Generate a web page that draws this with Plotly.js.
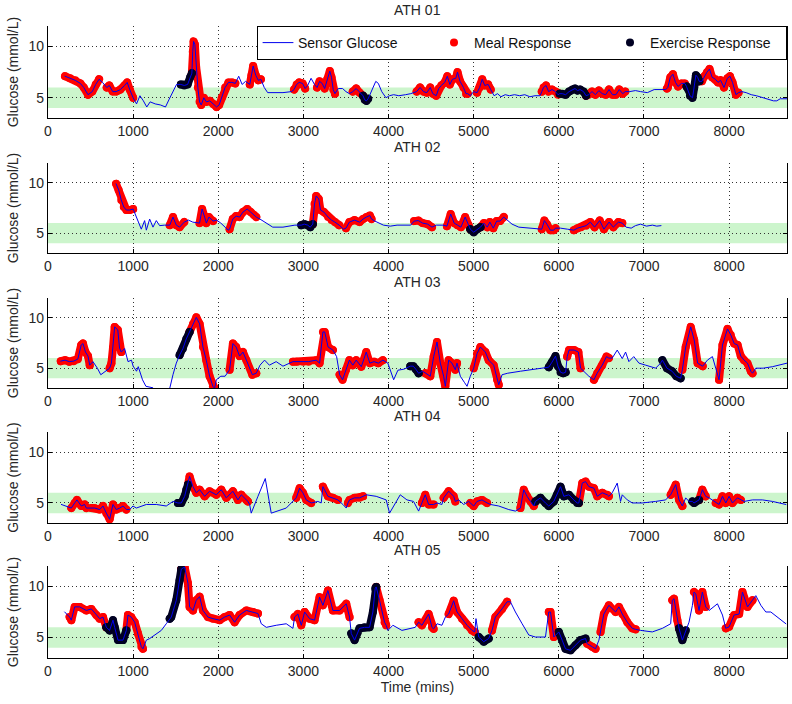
<!DOCTYPE html>
<html><head><meta charset="utf-8">
<script src="https://cdn.plot.ly/plotly-3.0.1.min.js"></script>
<style>html,body{margin:0;padding:0;background:#fff}#chart{width:792px;height:704px}path.js-line{stroke-linejoin:round;stroke-linecap:round}</style>
</head><body><div id="chart"></div>
<script>
const athleteNames = ['ATH 01','ATH 02','ATH 03','ATH 04','ATH 05'];

const ath01Time = [200,260,320,380,420,470,520,560,600,640,
690,720,760,800,850,900,930,960,1000,1040,
1080,1120,1160,1200,1260,1320,1380,1420,1460,1510,
1560,1600,1640,1670,1690,1700,1710,1725,1740,1760,
1780,1800,1830,1860,1900,1940,1980,2010,2040,2080,
2120,2160,2200,2240,2280,2320,2370,2390,2410,2440,
2470,2500,2540,2580,2660,2760,2860,2890,2920,2950,
2990,3020,3050,3090,3130,3160,3190,3220,3250,3280,
3310,3330,3350,3370,3410,3460,3500,3540,3580,3620,
3660,3700,3720,3740,3760,3800,3850,3880,3920,3970,
4010,4060,4120,4200,4260,4330,4370,4410,4450,4490,
4520,4560,4590,4620,4660,4690,4720,4750,4790,4810,
4840,4880,4910,4930,4960,5000,5040,5070,5100,5130,
5170,5200,5240,5280,5320,5370,5420,5480,5540,5600,
5660,5720,5780,5800,5820,5850,5880,5920,5960,5990,
6010,6040,6080,6120,6160,6190,6220,6250,6290,6320,
6350,6390,6430,6470,6510,6550,6590,6630,6670,6710,
6750,6780,6830,6900,6960,7040,7120,7200,7250,7270,
7280,7310,7340,7370,7400,7440,7480,7500,7540,7570,
7590,7610,7630,7650,7680,7710,7740,7770,7800,7840,
7870,7900,7940,7980,8010,8040,8080,8110,8150,8200,
8260,8320,8400,8470,8520,8560,8600,8680];
const ath01Glucose = [7.1,6.9,6.7,6.4,6.0,5.3,5.6,6.3,6.8,6.5,
6.0,6.2,5.6,5.6,5.8,6.2,6.5,5.8,5.0,4.4,
5.2,4.7,4.1,4.6,4.4,4.3,4.1,4.8,5.4,6.3,
6.3,6.2,6.3,7.0,7.4,9.5,10.5,10.2,8.0,6.0,
4.6,4.3,5.0,4.6,4.7,4.4,4.1,4.3,5.0,6.0,
6.5,6.5,6.4,7.1,6.3,6.6,6.3,7.2,8.1,7.2,
6.7,6.8,6.0,5.5,5.5,5.5,5.6,5.8,6.3,6.5,
6.4,5.9,6.2,6.9,6.3,6.0,6.6,6.4,5.9,6.8,
7.6,7.0,5.8,5.4,5.9,5.9,5.6,5.4,5.6,5.9,
5.5,5.2,4.8,4.7,4.9,5.6,6.6,6.4,5.6,5.0,
5.2,5.3,5.2,5.3,5.4,5.6,6.0,5.6,5.5,6.0,
5.4,5.2,5.9,6.2,6.5,7.1,6.3,6.8,6.9,7.5,
6.6,6.0,5.4,5.4,5.2,5.6,5.5,6.0,6.8,6.2,
6.3,5.8,5.2,5.4,5.1,5.3,5.2,5.3,5.2,5.3,
5.1,5.2,5.2,5.6,6.0,6.2,5.6,5.8,5.6,5.3,
5.4,5.4,5.3,5.6,5.8,5.9,5.7,5.8,5.6,5.2,
5.3,5.6,5.3,5.7,5.4,5.3,5.8,5.3,5.3,5.8,
5.4,5.6,5.6,5.7,5.6,5.5,5.8,5.8,5.8,5.9,
6.0,7.0,7.3,6.5,6.1,6.4,6.4,6.1,5.2,5.0,
6.0,7.2,7.0,6.6,6.6,7.1,7.5,7.8,7.0,6.8,
6.5,6.7,6.0,6.9,7.1,6.5,5.3,5.5,5.6,5.5,
5.3,5.2,5.0,4.9,4.7,4.7,4.9,4.9];
const ath01Meal = [[200,600],[690,1000],[1690,2200],[2370,2500],[2890,3020],[3160,3370],[3580,3700],[4330,4930],[5040,5200],[5800,6010],[6320,6780],[7270,7500],[7650,8110]];
const ath01Exercise = [[1560,1690],[3700,3760],[6010,6320],[7500,7650]];

const ath02Time = [800,830,860,890,920,960,1000,1040,1096,1135,
1155,1194,1233,1272,1311,1370,1430,1468,1507,1546,
1600,1650,1700,1780,1810,1840,1860,1890,1940,1980,
2030,2080,2115,2133,2170,2210,2250,2290,2340,2380,
2420,2446,2490,2560,2640,2760,2900,2975,3010,3050,
3080,3110,3130,3150,3180,3200,3240,3290,3330,3370,
3420,3470,3500,3540,3600,3660,3700,3740,3780,3800,
3840,3940,4020,4100,4200,4260,4300,4350,4400,4460,
4510,4560,4640,4686,4730,4770,4810,4850,4900,4940,
4960,5000,5040,5080,5120,5160,5190,5230,5270,5310,
5353,5400,5450,5530,5650,5750,5800,5830,5860,5900,
5940,5961,6020,6100,6176,6220,6260,6320,6370,6420,
6480,6530,6590,6640,6700,6745,6790,6850,6900,6960,
7030,7100,7150,7200];
const ath02Glucose = [9.9,9.3,8.3,7.6,7.3,7.3,7.4,6.6,5.4,6.25,
5.3,6.4,5.6,6.25,5.75,5.8,5.8,6.6,5.8,5.6,
6.1,6.3,6.1,6.0,7.4,6.6,6.0,6.6,6.2,6.3,
6.0,5.6,5.3,5.4,6.4,6.7,6.6,7.1,7.4,7.1,
6.8,6.6,6.4,6.0,5.6,5.6,5.8,5.8,5.9,5.8,
5.6,5.9,7.9,8.7,8.4,7.3,7.1,6.6,6.3,6.1,
5.8,5.4,5.5,6.1,6.3,6.1,6.4,6.6,6.75,6.4,
6.2,5.8,5.7,5.8,5.8,5.8,6.2,6.25,6.0,5.9,
5.6,5.8,5.8,5.7,6.9,6.0,5.8,5.6,6.6,5.8,
5.4,5.1,5.4,5.6,6.0,5.6,6.1,5.5,6.2,6.2,
6.6,6.3,5.9,5.6,5.5,5.4,5.4,6.25,5.9,5.3,
5.3,5.5,5.5,5.4,5.3,5.5,5.6,5.75,6.1,5.6,
6.25,5.4,6.1,5.6,6.1,6.0,5.6,5.5,5.75,5.9,
5.7,5.8,5.7,5.75];
const ath02Meal = [[800,1000],[1430,1600],[1780,1940],[2133,2446],[3110,3420],[3500,3800],[4300,4510],[4686,4960],[5080,5353],[5800,5961],[6176,6745]];
const ath02Exercise = [[2975,3110],[4960,5080]];

const ath03Time = [150,200,250,300,350,390,411,440,470,490,
528,580,620,680,724,745,763,783,820,840,
861,900,940,980,1000,1040,1060,1110,1150,1233,
1260,1340,1410,1430,1468,1507,1546,1585,1624,1663,
1703,1742,1781,1820,1859,1898,1937,1957,1977,2030,
2080,2133,2172,2210,2250,2290,2330,2400,2446,2490,
2544,2600,2680,2760,2877,2920,3000,3060,3150,3190,
3229,3250,3290,3346,3390,3425,3460,3500,3540,3580,
3620,3680,3700,3738,3780,3830,3880,3933,3992,4030,
4060,4110,4180,4255,4290,4320,4353,4400,4431,4490,
4530,4569,4608,4647,4667,4706,4745,4784,4804,4843,
4890,4922,4960,5000,5039,5078,5137,5176,5235,5275,
5294,5333,5400,5550,5700,5800,5882,5920,5961,5990,
6020,6050,6080,6098,6120,6180,6230,6255,6300,6353,
6412,6450,6510,6560,6588,6627,6686,6745,6784,6823,
6880,6941,7020,7137,7196,7216,7270,7330,7380,7431,
7451,7490,7549,7590,7630,7690,7745,7804,7843,7882,
7922,7981,8020,8059,8100,8137,8176,8215,8255,8275,
8314,8400,8510,8600,8680];
const ath03Glucose = [5.7,5.8,5.65,5.7,5.9,7.3,7.45,6.6,6.2,5.3,
5.65,5.0,4.35,4.7,5.0,5.5,7.0,9.1,8.8,7.0,
6.6,6.95,5.65,5.8,5.2,4.7,5.15,3.85,3.2,3.05,
2.8,2.6,2.8,3.0,4.35,5.5,6.3,6.95,7.9,8.6,
9.4,10.05,9.4,7.1,5.8,4.2,3.2,3.0,3.85,4.2,
4.2,4.85,7.45,7.1,6.2,6.6,5.8,4.35,4.5,5.3,
5.8,5.3,5.65,5.2,5.65,5.65,5.65,5.65,5.8,5.5,
8.6,8.6,7.1,6.8,6.15,4.35,3.85,4.85,5.8,5.3,
5.8,5.15,5.65,6.6,5.5,5.65,5.5,5.8,5.5,4.6,
3.85,4.8,4.9,5.2,5.2,4.9,4.5,4.7,4.5,4.2,
6.15,7.6,5.5,4.2,3.2,5.8,5.5,4.85,5.5,4.2,
3.6,3.2,4.2,5.0,6.45,7.1,6.6,5.8,5.3,3.85,
3.35,4.35,4.5,4.7,4.85,5.0,5.1,5.6,6.2,5.2,
4.6,4.5,4.6,6.15,6.8,6.8,6.6,5.0,4.6,4.2,
3.85,4.5,5.3,6.15,6.0,6.0,6.8,5.95,6.6,5.65,
6.15,5.5,5.3,5.0,5.5,5.8,5.0,4.7,4.2,4.0,
4.85,7.1,9.1,7.8,5.5,5.2,5.8,6.15,5.0,3.85,
7.3,8.9,8.3,7.45,7.3,6.2,5.8,5.5,4.7,4.5,
5.0,5.0,5.15,5.3,5.5];
const ath03Meal = [[150,490],[724,861],[1663,1957],[2133,2446],[2877,3346],[3425,3933],[4431,4804],[5000,5294],[6098,6255],[6412,6588],[7451,7690],[7882,8275]];
const ath03Exercise = [[1546,1663],[4255,4353],[5882,6080],[7216,7431]];

const ath04Time = [157,215,274,313,340,391,430,450,470,509,
548,607,646,685,724,763,802,841,881,920,
959,998,1037,1155,1272,1389,1468,1526,1566,1605,
1624,1644,1663,1703,1742,1781,1840,1898,1977,2035,
2094,2172,2231,2270,2329,2348,2368,2387,2466,2552,
2622,2798,2916,2955,2994,3033,3092,3170,3209,3229,
3288,3346,3405,3464,3503,3523,3542,3601,3659,3700,
3738,3855,3972,4012,4137,4216,4294,4353,4392,4431,
4471,4529,4569,4627,4647,4706,4765,4784,4824,4882,
4941,4960,5000,5039,5098,5157,5196,5294,5412,5490,
5549,5588,5627,5667,5706,5725,5784,5843,5882,5941,
5980,6020,6059,6118,6176,6216,6235,6275,6314,6353,
6412,6451,6510,6569,6588,6627,6686,6725,6745,6804,
6863,6980,7137,7255,7294,7314,7373,7412,7451,7490,
7529,7569,7588,7647,7686,7725,7765,7824,7843,7882,
7922,7961,8000,8039,8098,8137,8176,8275,8392,8510,
8608,8667];
const ath04Glucose = [4.85,4.7,4.5,5.0,5.3,4.7,4.85,4.5,4.5,4.5,
4.5,4.35,4.7,4.0,3.4,4.85,4.35,4.5,4.7,4.35,
4.35,4.7,4.5,4.85,4.85,4.7,5.15,5.0,5.0,5.65,
6.3,6.8,7.6,6.6,6.0,6.3,5.65,6.15,5.8,6.3,
5.5,6.15,5.3,5.8,5.3,5.15,4.85,4.0,5.65,7.4,
4.0,4.5,5.5,6.45,6.0,5.3,5.0,5.15,5.0,6.6,
5.65,5.5,5.3,4.85,4.5,5.0,5.3,5.5,5.5,5.65,
5.8,5.65,5.3,4.0,5.8,5.3,5.15,4.2,5.0,5.8,
4.85,4.85,5.0,4.85,5.5,6.15,5.65,5.15,5.3,4.85,
5.15,5.0,4.7,5.15,5.3,5.0,4.85,4.7,4.35,4.2,
4.5,6.3,5.65,5.15,4.7,5.15,5.5,5.0,4.7,5.15,
5.8,6.6,5.65,5.8,5.3,5.0,5.0,6.95,7.1,6.6,
6.45,5.65,6.0,5.8,5.65,6.0,6.95,5.15,5.8,5.3,
5.0,5.0,5.15,5.3,5.65,5.8,6.8,5.3,4.7,5.5,
5.15,5.15,5.0,5.3,6.3,5.65,5.5,5.15,5.0,4.85,
5.65,5.0,5.65,5.0,5.5,5.3,5.15,5.3,5.3,5.15,
5.0,4.85];
const ath04Meal = [[274,450],[509,920],[1644,2348],[2916,3092],[3229,3405],[3523,3700],[4392,4529],[4647,4784],[4960,5157],[5549,5725],[6235,6588],[7314,7451],[7647,7725],[7843,8137]];
const ath04Exercise = [[1526,1644],[5725,6235],[7569,7647]];

const ath05Time = [196,254,274,313,372,450,509,567,607,646,
685,724,763,783,822,881,920,939,978,1018,
1057,1096,1115,1155,1194,1272,1331,1389,1430,1448,
1507,1546,1566,1605,1644,1663,1703,1742,1781,1820,
1879,1937,2016,2074,2133,2192,2250,2329,2407,2466,
2505,2564,2681,2798,2877,2896,2935,2975,3014,3072,
3131,3190,3229,3288,3346,3425,3503,3542,3562,3601,
3659,3718,3777,3816,3843,3855,3894,3953,3972,3992,
4051,4110,4157,4314,4353,4392,4471,4510,4529,4569,
4627,4667,4706,4765,4804,4863,4922,4980,5012,5027,
5059,5118,5176,5215,5255,5333,5392,5431,5490,5569,
5647,5725,5843,5882,5902,5941,6000,6039,6078,6137,
6196,6255,6314,6333,6392,6431,6471,6490,6529,6588,
6667,6706,6745,6804,6863,6902,6961,7098,7216,7314,
7333,7353,7392,7412,7451,7490,7529,7569,7588,7608,
7647,7686,7725,7765,7863,7922,7961,8000,8059,8118,
8157,8216,8275,8314,8373,8431,8490,8569,8667];
const ath05Glucose = [7.5,7.0,6.7,8.0,8.0,7.65,7.8,7.2,6.85,7.0,
6.0,5.7,6.7,6.0,4.75,4.75,5.7,7.2,7.0,6.5,
5.4,4.1,3.9,4.75,4.9,5.4,5.7,6.35,6.85,7.0,
8.65,10.6,11.7,11.9,10.3,8.0,7.65,8.65,9.0,7.65,
7.0,6.85,6.7,7.0,7.2,6.5,7.2,7.65,7.5,7.35,
6.35,6.0,6.2,6.35,5.9,7.0,7.3,6.2,7.5,6.85,
6.7,8.95,8.15,9.6,7.65,7.65,8.3,7.0,5.4,4.75,
5.9,6.0,6.0,7.5,9.8,9.95,8.65,6.5,6.2,5.7,
6.2,5.9,5.7,6.0,6.5,6.2,7.3,6.0,5.85,6.35,
6.2,7.0,7.3,8.6,7.5,6.85,6.2,5.7,5.55,6.85,
5.05,4.6,4.9,5.7,7.0,7.8,8.5,8.5,7.5,6.35,
5.25,5.05,5.05,7.5,7.5,5.05,5.55,4.75,3.9,3.75,
4.25,4.75,4.9,4.4,4.1,3.9,4.75,5.55,7.3,8.15,
7.5,8.0,7.3,6.5,5.9,5.8,5.7,5.55,5.9,6.35,
8.65,8.8,6.7,5.9,4.75,5.7,6.5,8.15,9.45,9.3,
7.65,9.45,8.0,7.65,8.3,7.2,5.9,6.05,7.2,7.3,
9.45,8.0,8.65,9.1,8.15,7.5,7.5,7.0,6.35];
const ath05Meal = [[254,685],[920,1115],[1566,2466],[2896,3542],[3855,3972],[4353,4529],[4706,5012],[5215,5392],[5882,5941],[6333,6431],[6490,6902],[7333,7412],[7588,7725],[7961,8275]];
const ath05Exercise = [[685,920],[1430,1566],[3562,3855],[5059,5176],[6000,6314],[7412,7490]];

const xTicks = [0,1000,2000,3000,4000,5000,6000,7000,8000];
const yTicks = [5,10];
const xRange = [0,8680];
const yRange = [3,12];
const targetRange = [4,6];

const athletes = [
  {t:ath01Time,g:ath01Glucose,meal:ath01Meal,ex:ath01Exercise},
  {t:ath02Time,g:ath02Glucose,meal:ath02Meal,ex:ath02Exercise},
  {t:ath03Time,g:ath03Glucose,meal:ath03Meal,ex:ath03Exercise},
  {t:ath04Time,g:ath04Glucose,meal:ath04Meal,ex:ath04Exercise},
  {t:ath05Time,g:ath05Glucose,meal:ath05Meal,ex:ath05Exercise}
];

const FONT = 'Liberation Sans, Arial, Helvetica, sans-serif';
const TXT = '#262626';
const FS = 14;
const domains = [[0.854,1.0],[0.6403,0.7837],[0.4267,0.5701],[0.2131,0.3581],[0.0,0.1456]];
const MEAL = '#ff0000', EXER = '#000022', SENS = '#0000ee';

function inWin(v, wins){ return wins.some(w => v >= w[0] && v <= w[1]); }

const traces = [];
const layout = {
  width:792, height:704,
  margin:{l:48,r:5,t:26,b:46},
  paper_bgcolor:'#fff', plot_bgcolor:'#fff',
  font:{family:FONT,size:FS,color:TXT},
  showlegend:true,
  legend:{orientation:'h',x:1,xanchor:'right',y:1,yanchor:'top',yref:'paper',
    bgcolor:'#fff',bordercolor:'#000',borderwidth:1,font:{family:FONT,size:FS,color:'#111'},
    traceorder:'normal',entrywidth:131,entrywidthmode:'pixels'},
  shapes:[], annotations:[]
};

athletes.forEach((a,i) => {
  const s = i===0 ? '' : String(i+1);
  const xa = 'x'+s, ya = 'y'+s;
  const mealY = a.t.map((v,j) => inWin(v,a.meal) ? a.g[j] : null);
  const exY = a.t.map((v,j) => inWin(v,a.ex) ? a.g[j] : null);
  traces.push({x:a.t,y:mealY,xaxis:xa,yaxis:ya,mode:'lines',line:{color:MEAL,width:8},connectgaps:false,showlegend:false,hoverinfo:'skip'});
  traces.push({x:a.t,y:mealY,xaxis:xa,yaxis:ya,mode:'markers',marker:{color:MEAL,size:8},name:'Meal Response',legendrank:2,showlegend:i===0});
  traces.push({x:a.t,y:exY,xaxis:xa,yaxis:ya,mode:'lines',line:{color:EXER,width:8},connectgaps:false,showlegend:false,hoverinfo:'skip'});
  traces.push({x:a.t,y:exY,xaxis:xa,yaxis:ya,mode:'markers',marker:{color:EXER,size:8},name:'Exercise Response',legendrank:3,showlegend:i===0});
  traces.push({x:a.t,y:a.g,xaxis:xa,yaxis:ya,mode:'lines',line:{color:SENS,width:1},name:'Sensor Glucose',legendrank:1,showlegend:i===0});

  layout['xaxis'+s] = {domain:[0,1],anchor:ya,range:xRange,tickvals:xTicks,ticktext:xTicks.map(String),
    showgrid:true,gridcolor:'#333',griddash:'1px,3px',gridwidth:1,zeroline:false,
    showline:true,linecolor:'#000',linewidth:1.3,mirror:false,ticks:'inside',ticklen:4,tickcolor:'#000',
    tickfont:{family:FONT,size:FS,color:TXT}};
  layout['yaxis'+s] = {domain:domains[i],anchor:xa,range:yRange,tickvals:[...yTicks,yRange[1]],ticktext:[...yTicks.map(String),''],
    showgrid:true,gridcolor:'#333',griddash:'1px,3px',gridwidth:1,zeroline:false,
    showline:true,linecolor:'#000',linewidth:1.3,mirror:'ticks',ticks:'inside',ticklen:4,tickcolor:'#000',
    tickfont:{family:FONT,size:FS,color:TXT},
    title:{text:'Glucose (mmol/L)',font:{family:FONT,size:FS,color:TXT},standoff:6}};
  if (i===4) layout['xaxis'+s].title = {text:'Time (mins)',font:{family:FONT,size:FS,color:TXT},standoff:4};
  layout.shapes.push({type:'rect',xref:xa+' domain',yref:ya,x0:0,x1:1,y0:targetRange[0],y1:targetRange[1],
    fillcolor:'#ccf5cc',line:{width:0},layer:'below'});
  layout.annotations.push({text:athleteNames[i],xref:'paper',x:0.5,xanchor:'center',yref:ya+' domain',y:1,yanchor:'bottom',yshift:6,
    showarrow:false,font:{family:FONT,size:FS,color:TXT}});
});

Plotly.newPlot('chart', traces, layout, {displayModeBar:false, responsive:false});
</script></body></html>
